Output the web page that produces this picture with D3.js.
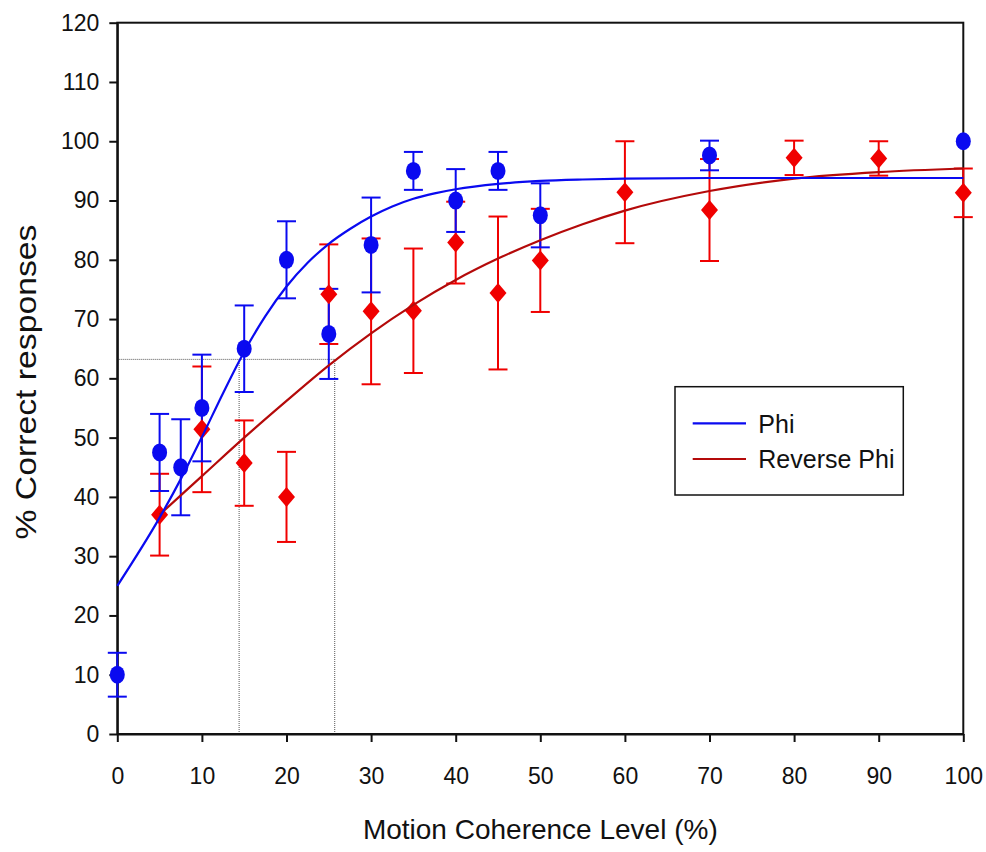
<!DOCTYPE html>
<html>
<head>
<meta charset="utf-8">
<script src="https://cdn.jsdelivr.net/npm/d3@7"></script>
<style>
  body { margin: 0; background: #fff; }
  svg { display: block; font-family: "Liberation Sans", Arial, sans-serif; }
</style>
</head>
<body>
<div id="chart"></div>
<script>
// measured points (mean and error) for both conditions
const phiX = [0, 5, 7.5, 10, 15, 20, 25, 30, 35, 40, 45, 50, 70, 100];
const phiY = [10, 47.5, 45, 55, 65, 80, 67.5, 82.5, 95, 90, 95, 87.5, 97.6, 100];
const phiErr = [3.7, 6.5, 8.1, 9, 7.3, 6.5, 7.6, 8, 3.2, 5.3, 3.2, 5.4, 2.5, 0];

const revX = [5, 10, 15, 20, 25, 30, 35, 40, 45, 50, 60, 70, 80, 90, 100];
const revY = [37, 51.4, 45.7, 40, 74.2, 71.3, 71.4, 82.9, 74.4, 79.9, 91.4, 88.4, 97.2, 97.1, 91.3];
const revErr = [6.9, 10.6, 7.2, 7.6, 8.4, 12.3, 10.5, 6.9, 12.9, 8.7, 8.6, 8.6, 2.9, 2.9, 4.1];

// fitted curves
const phiFitX = [0, 5, 7.5, 10, 12.5, 15, 17.5, 20, 22.5, 25, 27.5, 30, 32.5, 35, 37.5, 40, 45, 50, 55, 60, 70, 80, 90, 100];
const phiFitY = [25, 36.5, 43, 50.1, 57.5, 64.5, 70.5, 75.5, 79.5, 82.7, 85.2, 87.3, 89, 90.3, 91.2, 91.9, 92.8, 93.3, 93.55, 93.7, 93.8, 93.8, 93.8, 93.8];
const revFitX = [5, 10, 15, 20, 25, 30, 35, 40, 45, 50, 55, 60, 70, 80, 90, 100];
const revFitY = [37, 43.5, 50, 56.2, 62.2, 67.6, 72.4, 76.6, 80.2, 83.3, 86, 88.3, 91.6, 93.7, 94.8, 95.4];

// threshold guide lines (63.2 % level)
const refX = [14.4, 25.7];
const refY = 63.2;

const xTicks = d3.range(0, 101, 10);
const yTicks = d3.range(0, 121, 10);
const legendLabels = ["Phi", "Reverse Phi"];

const W = 986, H = 852;
const blue = "#0a0af0", red = "#f00000", darkRed = "#b40a0a";

const svg = d3.select("#chart").append("svg")
    .attr("width", W)
    .attr("height", H);

const x = d3.scaleLinear().domain([0, 100]).range([117.3, 963.3]);
const y = d3.scaleLinear().domain([0, 120]).range([734, 22.7]);

// dotted guides
const guides = svg.append("g")
    .attr("stroke", "#555")
    .attr("stroke-width", 1)
    .attr("stroke-dasharray", "1,1")
    .attr("fill", "none");
guides.append("line")
    .attr("x1", x(0)).attr("x2", x(d3.max(refX)))
    .attr("y1", y(refY)).attr("y2", y(refY));
refX.forEach(v => {
    guides.append("line")
        .attr("x1", x(v)).attr("x2", x(v))
        .attr("y1", y(0)).attr("y2", y(refY));
});

// axes
const yAxis = svg.append("g")
    .attr("transform", `translate(${x(0)},0)`)
    .call(d3.axisLeft(y).tickValues(yTicks).tickSize(8).tickSizeOuter(0).tickPadding(10));
const xAxis = svg.append("g")
    .attr("transform", `translate(0,${y(0)})`)
    .call(d3.axisBottom(x).tickValues(xTicks).tickSize(8).tickSizeOuter(0).tickPadding(26));

[xAxis, yAxis].forEach(g => {
    g.selectAll("text").attr("font-size", 23).attr("font-family", "Liberation Sans, Arial, sans-serif").attr("fill", "#111");
    g.selectAll("line").attr("stroke", "#111").attr("stroke-width", 2);
    g.select(".domain").attr("stroke", "#111").attr("stroke-width", 2);
});

// frame
svg.append("rect")
    .attr("x", x(0)).attr("y", y(120))
    .attr("width", x(100) - x(0)).attr("height", y(0) - y(120))
    .attr("fill", "none").attr("stroke", "#111").attr("stroke-width", 2);

// error bars
function errorBars(xs, ys, es, color) {
    const g = svg.append("g").attr("stroke", color).attr("stroke-width", 2).attr("fill", "none");
    xs.forEach((xv, i) => {
        if (!es[i]) return;
        const px = x(xv), top = y(ys[i] + es[i]), bot = y(ys[i] - es[i]);
        g.append("line").attr("x1", px).attr("x2", px).attr("y1", top).attr("y2", bot);
        g.append("line").attr("x1", px - 9.5).attr("x2", px + 9.5).attr("y1", top).attr("y2", top);
        g.append("line").attr("x1", px - 9.5).attr("x2", px + 9.5).attr("y1", bot).attr("y2", bot);
    });
}
errorBars(revX, revY, revErr, red);
errorBars(phiX, phiY, phiErr, blue);

// markers
svg.append("g").selectAll("path")
    .data(revX)
    .join("path")
    .attr("d", (d, i) => {
        const px = x(d), py = y(revY[i]);
        return `M${px},${py - 10}L${px + 8.5},${py}L${px},${py + 10}L${px - 8.5},${py}Z`;
    })
    .attr("fill", red);

svg.append("g").selectAll("ellipse")
    .data(phiX)
    .join("ellipse")
    .attr("cx", d => x(d))
    .attr("cy", (d, i) => y(phiY[i]))
    .attr("rx", 7.5)
    .attr("ry", 9)
    .attr("fill", blue);

// fitted curves
const line = d3.line()
    .x(d => x(d[0]))
    .y(d => y(d[1]))
    .curve(d3.curveMonotoneX);

svg.append("path")
    .datum(revFitX.map((v, i) => [v, revFitY[i]]))
    .attr("d", line)
    .attr("fill", "none")
    .attr("stroke", darkRed)
    .attr("stroke-width", 2.2);

svg.append("path")
    .datum(phiFitX.map((v, i) => [v, phiFitY[i]]))
    .attr("d", line)
    .attr("fill", "none")
    .attr("stroke", blue)
    .attr("stroke-width", 2.2);

// legend
const legend = svg.append("g").attr("transform", "translate(675,386.7)");
legend.append("rect")
    .attr("width", 228.3).attr("height", 108.3)
    .attr("fill", "#fff").attr("stroke", "#111").attr("stroke-width", 1.5);
[blue, darkRed].forEach((c, i) => {
    const ly = 36.6 + i * 35.7;
    legend.append("line")
        .attr("x1", 17.7).attr("x2", 71)
        .attr("y1", ly).attr("y2", ly)
        .attr("stroke", c).attr("stroke-width", 2.2);
    legend.append("text")
        .attr("x", 83.3).attr("y", ly + 9.5)
        .attr("font-size", 25)
        .attr("fill", "#111")
        .text(legendLabels[i]);
});

// axis titles
svg.append("text")
    .attr("x", (x(0) + x(100)) / 2)
    .attr("y", 839)
    .attr("text-anchor", "middle")
    .attr("font-size", 28)
    .attr("fill", "#111")
    .text("Motion Coherence Level (%)");

svg.append("text")
    .attr("transform", "translate(36,382) rotate(-90)")
    .attr("text-anchor", "middle")
    .attr("font-size", 29)
    .attr("textLength", 315)
    .attr("lengthAdjust", "spacingAndGlyphs")
    .attr("fill", "#111")
    .text("% Correct responses");
</script>
</body>
</html>
